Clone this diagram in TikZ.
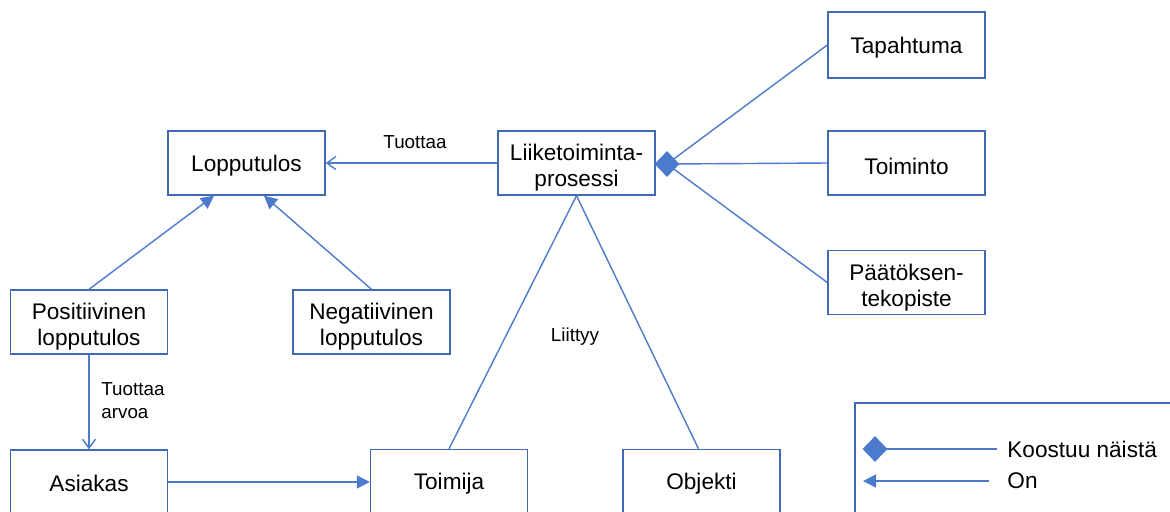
\documentclass[tikz,border=0pt]{standalone}
\usepackage{fontspec}
\setmainfont{Liberation Sans}
\usetikzlibrary{arrows.meta,shapes.geometric,calc}
\definecolor{linkblue}{RGB}{76,122,204}
\definecolor{boxblue}{RGB}{66,106,178}

\begin{document}
\begin{tikzpicture}[x=0.5pt,y=-0.5pt,
  box/.style={draw=boxblue,line width=0.7pt,minimum width=78.5pt,minimum height=32pt,inner sep=0pt},
  boxtext/.style={inner sep=0pt,align=center,font=\fontsize{11.3}{13}\selectfont},
  link/.style={draw=linkblue,line width=0.7pt},
  solidtip/.style={-{Triangle[length=6.5pt,width=6.5pt]}},
  opentip/.style={-{Straight Barb[length=4.5pt,width=6.5pt]}},
  lbl/.style={inner sep=0pt,align=left,font=\fontsize{9.4}{11.5}\selectfont},
  legtext/.style={inner sep=0pt,anchor=west,font=\fontsize{11.3}{13}\selectfont},
  agg/.style={diamond,fill=linkblue,draw=linkblue,line width=0.4pt,inner sep=0pt,
    minimum width=12pt,minimum height=12.5pt}
]
\useasboundingbox (0,0) rectangle (1170,511);
\clip (0,0) rectangle (1170,511);

% boxes
\node[box] (lop)  at (246.5,163) {};
\node[box] (proc) at (576.5,163) {};
\node[box,minimum height=33pt] (tap) at (906.5,45) {};
\node[box] (toim) at (906.5,163) {};
\node[box] (paat) at (906.5,282.5) {};
\node[box] (pos)  at (89,322) {};
\node[box] (neg)  at (371.5,322) {};
\node[box] (asi)  at (89,482) {};
\node[box] (toimija) at (449,481.5) {};
\node[box] (obj)  at (701.5,481.5) {};

% box captions
\node[boxtext] (lop-t)  at ([yshift=-1.5pt]lop.center) {Lopputulos};
\node[boxtext] (proc-t) at ([yshift=-2.5pt]proc.center) {Liiketoiminta-\\prosessi};
\node[boxtext] (tap-t)  at ([yshift=-1.5pt]tap.center) {Tapahtuma};
\node[boxtext] (toim-t) at ([yshift=-1.5pt]toim.center) {Toiminto};
\node[boxtext] (paat-t) at ([yshift=-2.5pt]paat.center) {Päätöksen-\\tekopiste};
\node[boxtext] (pos-t)  at ([yshift=-2.5pt]pos.center) {Positiivinen\\lopputulos};
\node[boxtext] (neg-t)  at ([yshift=-2.5pt]neg.center) {Negatiivinen\\lopputulos};
\node[boxtext] (asi-t)  at ([yshift=-0.5pt]asi.center) {Asiakas};
\node[boxtext] (toimija-t) at ([yshift=-1pt]toimija.center) {Toimija};
\node[boxtext] (obj-t)  at ([yshift=-1pt]obj.center) {Objekti};

% composition: process consists of these
\coordinate (hub) at (667,164);
\draw[link] (hub) -- (tap.west);
\draw[link] (hub) -- (toim.west);
\draw[link] (hub) -- (paat.west);
\node[agg] (dia) at (hub) {};

% relations
\draw[link,opentip] (proc.west) -- (lop.east);
\node[lbl] (tuottaa) at (415,142) {Tuottaa};
\draw[link,solidtip] (pos.north) -- ($(lop.south)+(-32.5,0)$);
\draw[link,solidtip] (neg.north) -- ($(lop.south)+(17.5,0)$);
\draw[link,opentip] (pos.south) -- (asi.north);
\node[lbl,anchor=west] (arvoa) at (101,401) {Tuottaa\\arvoa};
\draw[link,solidtip] (asi.east) -- (asi.east -| toimija.west);
\draw[link] (proc.south) -- (toimija.north);
\draw[link] (proc.south) -- ($(obj.north)+(-3,0)$);
\node[lbl] (liittyy) at (575,337) {Liittyy};

% legend
\draw[draw=boxblue,line width=0.7pt] (855,403) rectangle (1190,530);
\coordinate (legA) at (875,449);
\coordinate (legB) at (997,449);
\draw[link] (legA) -- (legB);
\node[agg] (legdia) at (legA) {};
\node[legtext] (legkoost) at (1007,449) {Koostuu näistä};
\coordinate (legC) at (989,481);
\coordinate (legD) at (863,481);
\draw[link,solidtip] (legC) -- (legD);
\node[legtext] (legon) at (1007,481) {On};
\end{tikzpicture}
\end{document}
